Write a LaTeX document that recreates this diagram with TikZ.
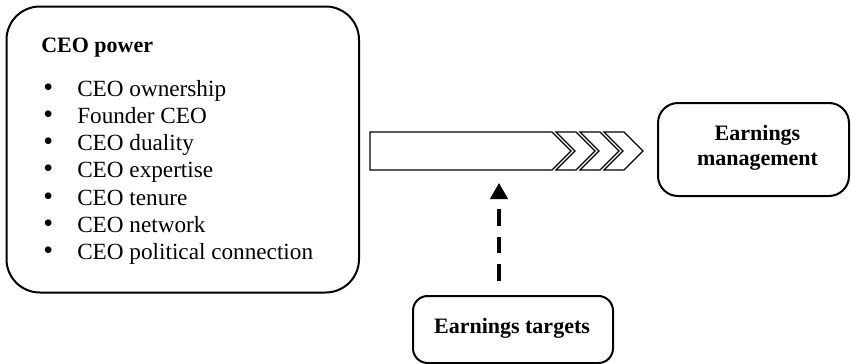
\documentclass[tikz,border=0pt]{standalone}
\usepackage{fontspec}
\setmainfont{Liberation Serif}
\usetikzlibrary{arrows.meta}
\begin{document}
\begin{tikzpicture}[x=0.75pt,y=-0.75pt,
  box/.style={draw=black, line width=1.5pt, fill=white, inner sep=0pt},
  txt/.style={inner sep=0pt, font=\fontsize{17.4}{20}\selectfont},
  btxt/.style={inner sep=0pt, font=\fontsize{16.5}{18.4}\selectfont\bfseries, align=center},
  shaft/.style={draw=black, line width=1pt, fill=white, line join=miter},
  dashline/.style={line width=2.6pt, dash pattern=on 12.4pt off 8.25pt, dash phase=12.4pt,
     shorten <=2.25pt, -{Triangle[length=12pt,width=13pt]}}
]
\useasboundingbox (0,0) rectangle (851,364);
% boxes
\node[box, rounded corners=25pt, minimum width=352.5*0.75pt, minimum height=286*0.75pt] (power) at (182.75,149.5) {};
\node[box, rounded corners=15pt, minimum width=191*0.75pt, minimum height=93*0.75pt] (em) at (753.5,149.5) {};
\node[box, rounded corners=11pt, minimum width=200*0.75pt, minimum height=67*0.75pt] (targets) at (513,329.5) {};
% texts
\node[btxt, anchor=base west] (title) at (41,52.3) {CEO power};
\foreach \t [count=\i] in {CEO ownership, Founder CEO, CEO duality, CEO expertise, CEO tenure, CEO network, CEO political connection}{
  \node[txt, anchor=base west] (item\i) at (77,{96+27.33*(\i-1)}) {\llap{{\fontsize{21}{20}\selectfont\textbullet}\hspace{18pt}}\t};
}
\node[btxt, anchor=base] (emtxt) at (757.5,165) {Earnings\\management};
\node[btxt, anchor=base] (tgttxt) at (512,333) {Earnings targets};
% chevron arrow
\draw[shaft] (370,132) -- (552,132) -- (571,151) -- (552,170) -- (370,170) -- cycle;
\foreach \k in {0,1,2}{
  \draw[shaft] ({556+24*\k},132) -- ({576+24*\k},132) -- ({595+24*\k},151) -- ({576+24*\k},170)
     -- ({556+24*\k},170) -- ({575+24*\k},151) -- cycle;
}
\coordinate (tgt) at (499,183);
\draw[dashline] (targets.north -| tgt) -- (tgt);
\end{tikzpicture}
\end{document}
